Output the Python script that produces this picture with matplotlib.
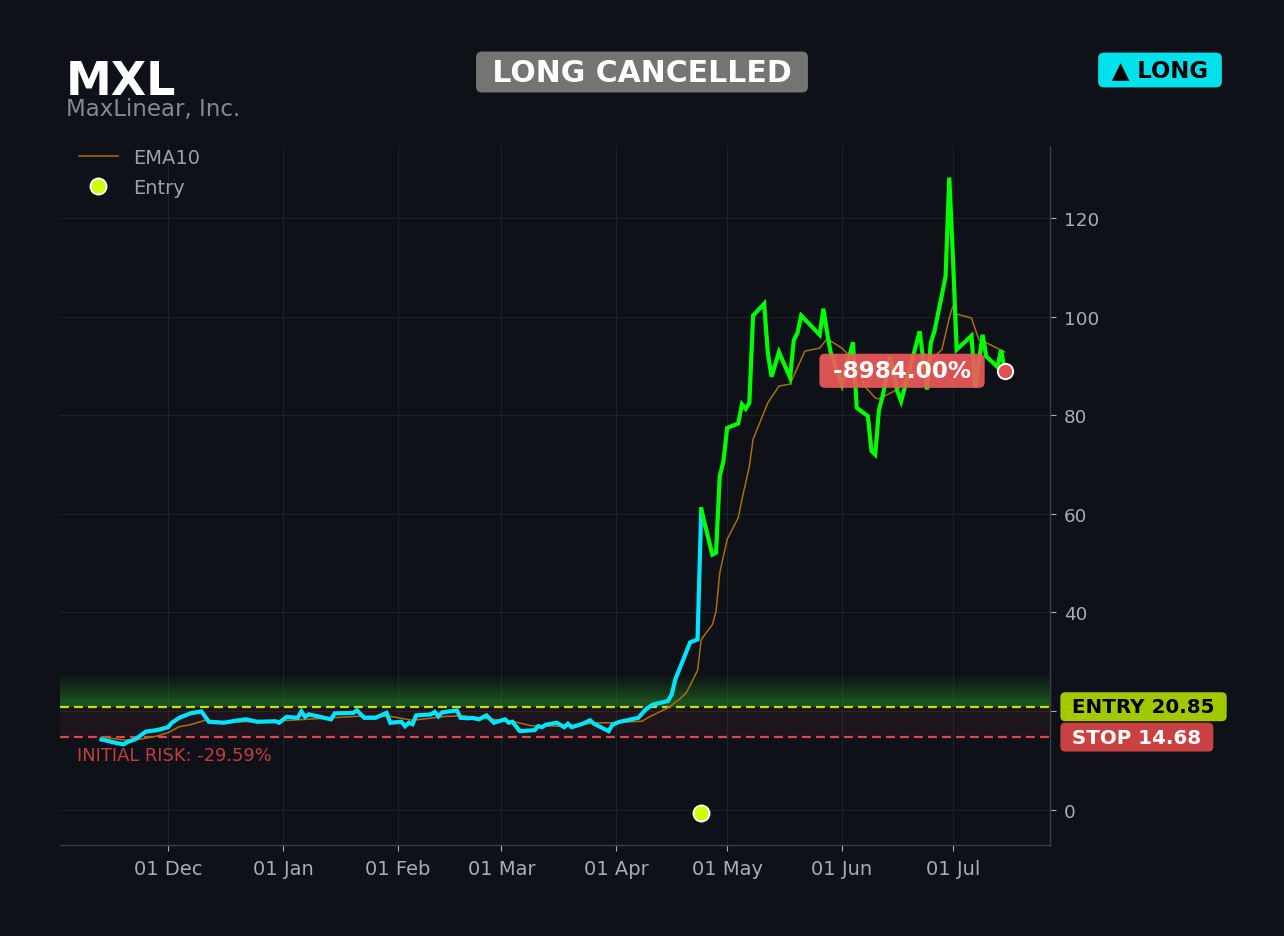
import matplotlib
matplotlib.use("Agg")
import matplotlib.pyplot as plt
import matplotlib.dates as mdates
import matplotlib.transforms as mtrans
import numpy as np
import pandas as pd

# ---------------- data ----------------
ticker = "MXL"
company = "MaxLinear, Inc."
status_text = "LONG CANCELLED"
direction_text = "▲ LONG"

price_dates = [
    "2024-11-13", "2024-11-17", "2024-11-19", "2024-11-20", "2024-11-22", "2024-11-25",
    "2024-11-28", "2024-12-01", "2024-12-02", "2024-12-04", "2024-12-07", "2024-12-10",
    "2024-12-12", "2024-12-16", "2024-12-20", "2024-12-22", "2024-12-25", "2024-12-30",
    "2024-12-31", "2025-01-02", "2025-01-05", "2025-01-06", "2025-01-07", "2025-01-08",
    "2025-01-14", "2025-01-15", "2025-01-20", "2025-01-21", "2025-01-23", "2025-01-26",
    "2025-01-29", "2025-01-30", "2025-02-02", "2025-02-03", "2025-02-04", "2025-02-05",
    "2025-02-06", "2025-02-10", "2025-02-11", "2025-02-12", "2025-02-13", "2025-02-17",
    "2025-02-18", "2025-02-20", "2025-02-21", "2025-02-23", "2025-02-25", "2025-02-27",
    "2025-03-02", "2025-03-03", "2025-03-04", "2025-03-06", "2025-03-10", "2025-03-11",
    "2025-03-12", "2025-03-13", "2025-03-16", "2025-03-18", "2025-03-19", "2025-03-20",
    "2025-03-23", "2025-03-25", "2025-03-26", "2025-03-30", "2025-03-31", "2025-04-02",
    "2025-04-07", "2025-04-09", "2025-04-11", "2025-04-15", "2025-04-16", "2025-04-17",
    "2025-04-21", "2025-04-23", "2025-04-24", "2025-04-27", "2025-04-28", "2025-04-29",
    "2025-04-30", "2025-05-01", "2025-05-04", "2025-05-05", "2025-05-06", "2025-05-07",
    "2025-05-08", "2025-05-11", "2025-05-12", "2025-05-13", "2025-05-15", "2025-05-18",
    "2025-05-19", "2025-05-20", "2025-05-21", "2025-05-26", "2025-05-27", "2025-05-28",
    "2025-05-29", "2025-06-01", "2025-06-04", "2025-06-05", "2025-06-08", "2025-06-09",
    "2025-06-10", "2025-06-11", "2025-06-12", "2025-06-14", "2025-06-16", "2025-06-17",
    "2025-06-22", "2025-06-24", "2025-06-25", "2025-06-26", "2025-06-29", "2025-06-30",
    "2025-07-01", "2025-07-02", "2025-07-06", "2025-07-07", "2025-07-09", "2025-07-10",
    "2025-07-13", "2025-07-14", "2025-07-15",
]
price_values = [
    14.2, 13.5, 13.2, 13.7, 14.2, 15.8,
    16.1, 16.7, 17.6, 18.6, 19.5, 19.9,
    17.8, 17.6, 18.1, 18.3, 17.8, 17.9,
    17.6, 18.8, 18.6, 19.9, 18.8, 19.3,
    18.3, 19.5, 19.6, 20.1, 18.6, 18.6,
    19.6, 17.6, 17.8, 16.9, 17.6, 17.3,
    19.1, 19.3, 19.8, 18.9, 19.7, 20.1,
    18.6, 18.5, 18.6, 18.3, 19.1, 17.6,
    18.3, 17.6, 17.8, 15.9, 16.1, 16.9,
    16.7, 17.2, 17.6, 16.7, 17.4, 16.7,
    17.4, 18.1, 17.4, 15.9, 17.2, 17.8,
    18.6, 20.3, 21.3, 22.0, 23.3, 26.4,
    33.9, 34.5, 60.9, 51.7, 52.1, 67.6,
    70.7, 77.4, 78.3, 82.2, 81.3, 82.5,
    100.2, 102.6, 92.5, 87.8, 92.8, 87.6,
    95.2, 96.7, 100.2, 96.3, 101.6, 96.7,
    92.6, 86.2, 94.8, 81.5, 79.8, 72.7,
    72.0, 81.1, 83.8, 91.9, 84.8, 82.8,
    97.0, 85.2, 94.7, 97.0, 108.1, 128.2,
    111.7, 93.3, 96.1, 85.6, 96.3, 91.9,
    89.8, 93.2, 89.0,
]

ema_dates = [
    "2024-11-13", "2024-11-19", "2024-11-23", "2024-11-28", "2024-12-01", "2024-12-04",
    "2024-12-07", "2024-12-11", "2024-12-16", "2024-12-25", "2025-01-03", "2025-01-12",
    "2025-01-21", "2025-01-30", "2025-02-05", "2025-02-14", "2025-02-19", "2025-02-23",
    "2025-03-04", "2025-03-09", "2025-03-18", "2025-03-27", "2025-03-31", "2025-04-08",
    "2025-04-10", "2025-04-15", "2025-04-18", "2025-04-20", "2025-04-23", "2025-04-24",
    "2025-04-27", "2025-04-28", "2025-04-29", "2025-05-01", "2025-05-04", "2025-05-05",
    "2025-05-07", "2025-05-08", "2025-05-12", "2025-05-15", "2025-05-18", "2025-05-22",
    "2025-05-26", "2025-05-28", "2025-06-01", "2025-06-05", "2025-06-07", "2025-06-10",
    "2025-06-11", "2025-06-16", "2025-06-21", "2025-06-28", "2025-06-30", "2025-07-01",
    "2025-07-02", "2025-07-06", "2025-07-08", "2025-07-10", "2025-07-15",
]
ema_values = [
    14.7, 14.1, 14.2, 14.9, 15.6, 16.8,
    17.2, 18.1, 17.8, 17.8, 18.1, 18.5,
    18.9, 18.9, 18.1, 18.9, 19.0, 18.6,
    17.9, 17.0, 16.9, 17.6, 17.6, 17.9,
    18.8, 20.6, 22.3, 23.7, 28.2, 34.5,
    37.5, 40.2, 48.0, 54.8, 59.2, 62.9,
    69.6, 75.1, 82.5, 85.9, 86.3, 93.0,
    93.6, 95.5, 93.6, 90.5, 86.0, 83.5,
    83.3, 85.2, 88.5, 93.3, 99.7, 102.2,
    100.5, 99.7, 95.3, 94.7, 92.8,
]

entry_price = 20.85
stop_price = 14.68
signal_date = "2025-04-24"
entry_marker_date = "2025-04-24"
entry_marker_value = -0.8
exit_date = "2025-07-15"
exit_value = 89.0
pnl_text = "-8984.00%"
risk_text = "INITIAL RISK: -29.59%"

# ---------------- style ----------------
BG = "#0e1117"
GRID = "#1d2128"
TXT = "#a9adb3"
CYAN = "#00e5ff"
GREEN = "#00ff00"
EMA_C = "#a86e10"
ENTRY_C = "#c5e000"
STOP_C = "#e04848"

fig = plt.figure(figsize=(12.84, 9.37), dpi=100, facecolor=BG)
ax = fig.add_axes([60 / 1284, 1 - 846 / 937, 990 / 1284, 699 / 937])
ax.set_facecolor(BG)

pdates = pd.to_datetime(price_dates)
pvals = np.array(price_values)
edates = pd.to_datetime(ema_dates)
evals = np.array(ema_values)

sig = pd.Timestamp(signal_date)
pre = pdates <= sig
post = pdates >= sig

x0 = mdates.date2num(pd.Timestamp("2024-11-01 19:00"))
x1 = mdates.date2num(pd.Timestamp("2025-07-27 05:00"))

# zones
ax.axhspan(stop_price, entry_price, facecolor="#e04050", alpha=0.08, lw=0, zorder=1)
grad_top = entry_price + 6.6
n = 200
yy = np.linspace(entry_price, grad_top, n)
alpha = np.interp(yy, [entry_price, entry_price + 1.5, entry_price + 1.7, grad_top],
                  [0.5, 0.5, 0.42, 0.0])
img = np.zeros((n, 1, 4))
img[..., 0] = 0.15
img[..., 1] = 0.58
img[..., 2] = 0.15
img[..., 3] = alpha[:, None]
ax.imshow(img, extent=[x0, x1, entry_price, grad_top], origin="lower",
          aspect="auto", zorder=1, interpolation="bilinear")

# lines
ax.axhline(entry_price, color=ENTRY_C, lw=1.6, ls=(0, (4, 2.3)), zorder=2)
ax.axhline(stop_price, color=STOP_C, lw=1.6, ls=(0, (4, 2.3)), zorder=2)

ax.plot(edates, evals, color=EMA_C, lw=1.1, zorder=3, label="EMA10")
ax.plot(pdates[pre], pvals[pre], color=CYAN, lw=3.0, zorder=4, solid_joinstyle="miter")
ax.plot(pdates[post], pvals[post], color=GREEN, lw=3.0, zorder=4, solid_joinstyle="miter")

ax.plot([pd.Timestamp(entry_marker_date)], [entry_marker_value], "o", ms=11.5,
        mfc="#ccff00", mec="white", mew=1.4, zorder=6, ls="none", label="Entry")
ax.plot([pd.Timestamp(exit_date)], [exit_value], "o", ms=11,
        mfc="#e05050", mec="white", mew=1.4, zorder=7)

ax.annotate(" " + pnl_text + " ", xy=(pd.Timestamp(exit_date), exit_value),
            xytext=(-74, 0), textcoords="offset points", ha="center", va="center",
            color="white", fontsize=16.7, fontweight="bold", zorder=8,
            bbox=dict(boxstyle="round,pad=0.24", fc="#f25a5a", ec="none", alpha=0.9))

ax.annotate(risk_text, xy=(0.017, stop_price), xycoords=("axes fraction", "data"),
            xytext=(0, -12.5), textcoords="offset points", ha="left", va="center",
            color="#c23d3e", fontsize=12.9, zorder=5)

# right side labels
trans = mtrans.blended_transform_factory(ax.transAxes, ax.transData)
ax.text(1.0155, entry_price, " ENTRY %.2f " % entry_price, transform=trans,
        ha="left", va="center", fontsize=14.3, fontweight="bold", color="black",
        bbox=dict(boxstyle="round,pad=0.25", fc="#aad400", ec="none", alpha=0.95),
        zorder=10, clip_on=False)
ax.text(1.0155, stop_price, " STOP %.2f " % stop_price, transform=trans,
        ha="left", va="center", fontsize=14.3, fontweight="bold", color="white",
        bbox=dict(boxstyle="round,pad=0.25", fc="#d04444", ec="none", alpha=0.97),
        zorder=10, clip_on=False)

# axes styling
ax.set_xlim(x0, x1)
ax.set_ylim(-7.2, 134.6)
ax.xaxis.set_major_locator(mdates.MonthLocator())
ax.xaxis.set_major_formatter(mdates.DateFormatter("%d %b"))
ax.yaxis.tick_right()
ax.set_yticks([0, 20, 40, 60, 80, 100, 120])
ax.tick_params(axis="x", colors=TXT, labelsize=14, length=4, pad=6, width=0.8)
ax.tick_params(axis="y", colors=TXT, labelsize=13.2, length=4, pad=6, width=0.8)
ax.grid(True, color=GRID, lw=0.8, zorder=0)
ax.set_axisbelow(True)
for s in ["top", "left"]:
    ax.spines[s].set_visible(False)
for s in ["right", "bottom"]:
    ax.spines[s].set_color("#3a3f47")
    ax.spines[s].set_linewidth(1.0)

leg = ax.legend(loc="upper left", bbox_to_anchor=(17 / 990, 1.0), frameon=False,
                fontsize=14, borderaxespad=0, borderpad=0.1, labelcolor="#9c9fa4",
                handlelength=2.0, handletextpad=0.8, labelspacing=0.55)

# header
fig.text(66 / 1284, 1 - 95 / 937, ticker, fontsize=33, fontweight="bold",
         color="white", ha="left", va="baseline")
fig.text(66 / 1284, 1 - 116 / 937, company, fontsize=16.5, color="#85888d",
         ha="left", va="baseline")
fig.text(642 / 1284, 1 - 73 / 937, " " + status_text + " ", fontsize=21.5,
         fontweight="bold", color="white", ha="center", va="center",
         bbox=dict(boxstyle="round,pad=0.2", fc="#747474", ec="none"))
fig.text(1160 / 1284, 1 - 71 / 937, " " + direction_text + " ", fontsize=16.4,
         fontweight="bold", color="black", ha="center", va="center",
         bbox=dict(boxstyle="round,pad=0.26", fc="#00e1ec", ec="none"))

fig.savefig("out.png", dpi=100, facecolor=BG)
